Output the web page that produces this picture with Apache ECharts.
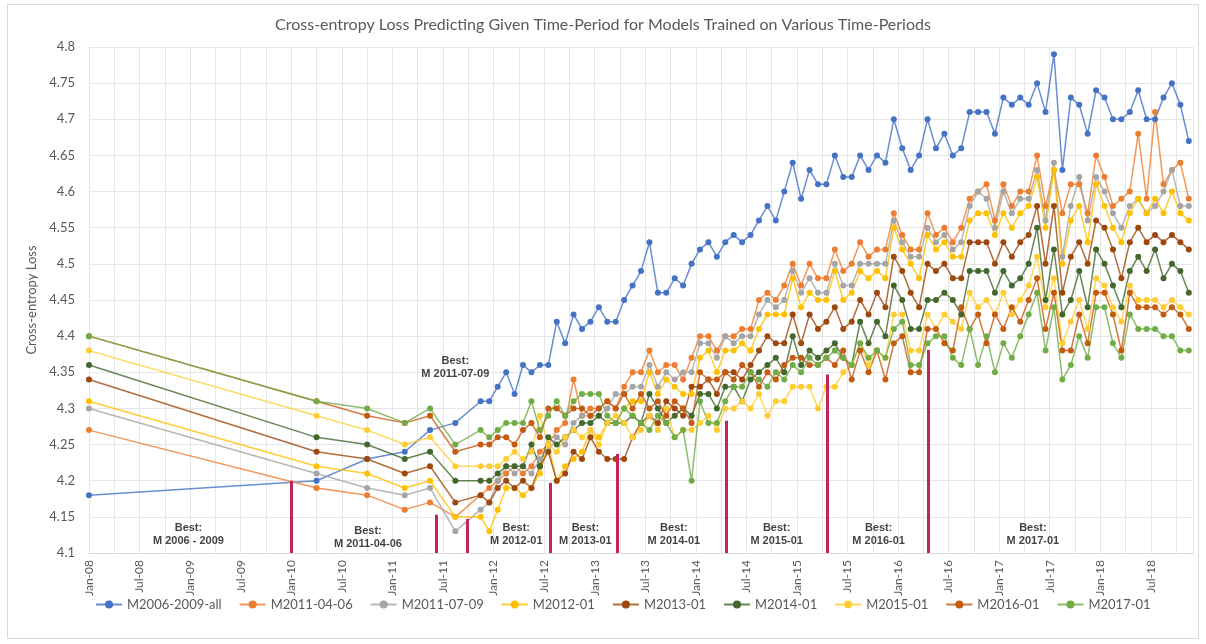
<!DOCTYPE html>
<html>
<head>
<meta charset="utf-8">
<title>Cross-entropy Loss</title>
<script src="https://cdn.jsdelivr.net/npm/echarts@6/dist/echarts.min.js"></script>
<style>
    html, body { margin: 0; padding: 0; background: #fff; }
    #chart { width: 1206px; height: 644px; }
</style>
</head>
<body>
<div id="chart"></div>
<script>
// time periods: first ones are spans, then one point per month (mid month)
var aPeriods = ['2008-01-01', '2010-04-01', '2010-10-01', '2011-02-15', '2011-05-15', '2011-08-15', '2011-11-15',
    '2011-12',
    '2012-01', '2012-02', '2012-03', '2012-04', '2012-05', '2012-06', '2012-07', '2012-08', '2012-09', '2012-10', '2012-11', '2012-12',
    '2013-01', '2013-02', '2013-03', '2013-04', '2013-05', '2013-06', '2013-07', '2013-08', '2013-09', '2013-10', '2013-11', '2013-12',
    '2014-01', '2014-02', '2014-03', '2014-04', '2014-05', '2014-06', '2014-07', '2014-08', '2014-09', '2014-10', '2014-11', '2014-12',
    '2015-01', '2015-02', '2015-03', '2015-04', '2015-05', '2015-06', '2015-07', '2015-08', '2015-09', '2015-10', '2015-11', '2015-12',
    '2016-01', '2016-02', '2016-03', '2016-04', '2016-05', '2016-06', '2016-07', '2016-08', '2016-09', '2016-10', '2016-11', '2016-12',
    '2017-01', '2017-02', '2017-03', '2017-04', '2017-05', '2017-06', '2017-07', '2017-08', '2017-09', '2017-10', '2017-11', '2017-12',
    '2018-01', '2018-02', '2018-03', '2018-04', '2018-05', '2018-06', '2018-07', '2018-08', '2018-09', '2018-10', '2018-11'];

var aNames = ['M2006-2009-all', 'M2011-04-06', 'M2011-07-09', 'M2012-01', 'M2013-01', 'M2014-01', 'M2015-01', 'M2016-01', 'M2017-01'];
var aColors = ['#4472C4', '#ED7D31', '#A5A5A5', '#FFC000', '#9E480E', '#43682B', '#FFCD33', '#C55A11', '#70AD47'];

var aM2006 = [4.18, 4.20, 4.23, 4.24, 4.27, 4.28, 4.31, 4.31,
    4.33, 4.35, 4.32, 4.36, 4.35, 4.36, 4.36, 4.42, 4.39, 4.43, 4.41, 4.42,
    4.44, 4.42, 4.42, 4.45, 4.47, 4.49, 4.53, 4.46, 4.46, 4.48, 4.47, 4.50,
    4.52, 4.53, 4.51, 4.53, 4.54, 4.53, 4.54, 4.56, 4.58, 4.56, 4.60, 4.64,
    4.59, 4.63, 4.61, 4.61, 4.65, 4.62, 4.62, 4.65, 4.63, 4.65, 4.64, 4.70,
    4.66, 4.63, 4.65, 4.70, 4.66, 4.68, 4.65, 4.66, 4.71, 4.71, 4.71, 4.68,
    4.73, 4.72, 4.73, 4.72, 4.75, 4.71, 4.79, 4.63, 4.73, 4.72, 4.68, 4.74,
    4.73, 4.70, 4.70, 4.71, 4.74, 4.70, 4.70, 4.73, 4.75, 4.72, 4.67];
var aM201104 = [4.27, 4.19, 4.18, 4.16, 4.17, 4.15, 4.18, 4.19,
    4.20, 4.21, 4.22, 4.21, 4.22, 4.24, 4.25, 4.27, 4.28, 4.34, 4.29, 4.30,
    4.30, 4.31, 4.30, 4.33, 4.35, 4.35, 4.38, 4.35, 4.36, 4.36, 4.34, 4.37,
    4.40, 4.40, 4.38, 4.40, 4.40, 4.41, 4.41, 4.45, 4.46, 4.45, 4.47, 4.50,
    4.47, 4.50, 4.48, 4.48, 4.52, 4.49, 4.50, 4.53, 4.51, 4.52, 4.52, 4.57,
    4.54, 4.52, 4.52, 4.57, 4.54, 4.55, 4.53, 4.55, 4.59, 4.60, 4.61, 4.56,
    4.61, 4.58, 4.60, 4.60, 4.65, 4.58, 4.63, 4.57, 4.61, 4.61, 4.57, 4.65,
    4.62, 4.58, 4.59, 4.60, 4.68, 4.59, 4.71, 4.61, 4.63, 4.64, 4.59];
var aM201107 = [4.30, 4.21, 4.19, 4.18, 4.19, 4.13, 4.16, 4.17,
    4.20, 4.22, 4.21, 4.22, 4.21, 4.23, 4.24, 4.26, 4.25, 4.28, 4.29, 4.29,
    4.29, 4.30, 4.32, 4.32, 4.33, 4.33, 4.36, 4.33, 4.35, 4.34, 4.35, 4.35,
    4.39, 4.39, 4.37, 4.40, 4.39, 4.40, 4.40, 4.43, 4.45, 4.44, 4.45, 4.49,
    4.46, 4.48, 4.46, 4.46, 4.50, 4.47, 4.47, 4.50, 4.50, 4.50, 4.50, 4.56,
    4.53, 4.51, 4.51, 4.55, 4.53, 4.54, 4.52, 4.53, 4.58, 4.60, 4.59, 4.55,
    4.60, 4.57, 4.59, 4.59, 4.63, 4.56, 4.64, 4.51, 4.58, 4.62, 4.56, 4.62,
    4.60, 4.57, 4.55, 4.58, 4.59, 4.57, 4.58, 4.60, 4.63, 4.58, 4.58];
var aM201201 = [4.31, 4.22, 4.21, 4.19, 4.20, 4.15, 4.15, 4.13,
    4.16, 4.19, 4.19, 4.18, 4.19, 4.21, 4.25, 4.20, 4.22, 4.23, 4.24, 4.27,
    4.26, 4.28, 4.28, 4.30, 4.31, 4.31, 4.35, 4.32, 4.34, 4.33, 4.32, 4.32,
    4.37, 4.38, 4.35, 4.38, 4.38, 4.39, 4.38, 4.41, 4.43, 4.43, 4.43, 4.48,
    4.44, 4.46, 4.45, 4.45, 4.49, 4.45, 4.46, 4.49, 4.48, 4.49, 4.48, 4.55,
    4.52, 4.50, 4.48, 4.54, 4.52, 4.53, 4.51, 4.51, 4.56, 4.57, 4.57, 4.54,
    4.57, 4.55, 4.57, 4.58, 4.62, 4.55, 4.63, 4.50, 4.56, 4.58, 4.53, 4.61,
    4.58, 4.55, 4.53, 4.57, 4.59, 4.57, 4.59, 4.57, 4.60, 4.57, 4.56];
var aM201301 = [4.34, 4.24, 4.23, 4.21, 4.22, 4.17, 4.18, 4.17,
    4.19, 4.20, 4.19, 4.20, 4.19, 4.22, 4.24, 4.20, 4.21, 4.24, 4.23, 4.26,
    4.24, 4.23, 4.23, 4.23, 4.26, 4.28, 4.29, 4.28, 4.31, 4.30, 4.29, 4.33,
    4.33, 4.34, 4.32, 4.35, 4.35, 4.34, 4.36, 4.38, 4.40, 4.39, 4.39, 4.43,
    4.39, 4.43, 4.41, 4.42, 4.44, 4.41, 4.42, 4.45, 4.43, 4.46, 4.44, 4.51,
    4.49, 4.46, 4.44, 4.50, 4.49, 4.50, 4.48, 4.48, 4.53, 4.53, 4.53, 4.50,
    4.53, 4.51, 4.53, 4.54, 4.58, 4.50, 4.58, 4.46, 4.51, 4.53, 4.50, 4.56,
    4.55, 4.52, 4.48, 4.53, 4.55, 4.53, 4.54, 4.53, 4.54, 4.53, 4.52];
var aM201401 = [4.36, 4.26, 4.25, 4.23, 4.24, 4.20, 4.20, 4.20,
    4.21, 4.22, 4.22, 4.22, 4.25, 4.22, 4.26, 4.25, 4.26, 4.27, 4.28, 4.28,
    4.29, 4.28, 4.28, 4.28, 4.29, 4.28, 4.32, 4.30, 4.28, 4.29, 4.30, 4.29,
    4.32, 4.32, 4.30, 4.33, 4.33, 4.31, 4.34, 4.35, 4.36, 4.37, 4.35, 4.40,
    4.36, 4.38, 4.37, 4.38, 4.39, 4.37, 4.36, 4.42, 4.39, 4.42, 4.40, 4.47,
    4.45, 4.41, 4.41, 4.45, 4.45, 4.46, 4.45, 4.43, 4.49, 4.49, 4.49, 4.46,
    4.49, 4.47, 4.48, 4.50, 4.55, 4.45, 4.52, 4.43, 4.45, 4.49, 4.44, 4.52,
    4.50, 4.47, 4.44, 4.49, 4.51, 4.49, 4.52, 4.48, 4.50, 4.49, 4.46];
var aM201501 = [4.38, 4.29, 4.27, 4.25, 4.26, 4.22, 4.22, 4.22,
    4.22, 4.23, 4.24, 4.23, 4.24, 4.29, 4.25, 4.24, 4.26, 4.27, 4.26, 4.27,
    4.25, 4.28, 4.29, 4.28, 4.26, 4.27, 4.29, 4.27, 4.30, 4.26, 4.27, 4.27,
    4.28, 4.29, 4.27, 4.30, 4.30, 4.31, 4.30, 4.32, 4.29, 4.31, 4.31, 4.33,
    4.33, 4.33, 4.30, 4.33, 4.33, 4.35, 4.36, 4.39, 4.36, 4.38, 4.37, 4.43,
    4.43, 4.38, 4.38, 4.43, 4.41, 4.43, 4.42, 4.41, 4.46, 4.44, 4.45, 4.43,
    4.46, 4.43, 4.45, 4.47, 4.51, 4.44, 4.48, 4.39, 4.42, 4.45, 4.41, 4.48,
    4.47, 4.44, 4.42, 4.47, 4.45, 4.45, 4.45, 4.44, 4.45, 4.44, 4.43];
var aM201601 = [4.40, 4.31, 4.29, 4.28, 4.29, 4.24, 4.25, 4.25,
    4.26, 4.26, 4.25, 4.27, 4.28, 4.26, 4.30, 4.30, 4.29, 4.30, 4.30, 4.29,
    4.30, 4.31, 4.30, 4.32, 4.30, 4.32, 4.30, 4.31, 4.29, 4.31, 4.30, 4.28,
    4.35, 4.34, 4.34, 4.35, 4.34, 4.36, 4.35, 4.33, 4.35, 4.34, 4.36, 4.37,
    4.37, 4.36, 4.36, 4.37, 4.36, 4.38, 4.34, 4.38, 4.35, 4.38, 4.34, 4.39,
    4.40, 4.35, 4.35, 4.41, 4.41, 4.39, 4.38, 4.44, 4.41, 4.43, 4.39, 4.43,
    4.41, 4.44, 4.42, 4.45, 4.48, 4.41, 4.46, 4.38, 4.38, 4.43, 4.39, 4.46,
    4.46, 4.43, 4.38, 4.46, 4.44, 4.44, 4.44, 4.43, 4.44, 4.43, 4.41];
var aM201701 = [4.40, 4.31, 4.30, 4.28, 4.30, 4.25, 4.27, 4.26,
    4.27, 4.28, 4.28, 4.28, 4.31, 4.27, 4.29, 4.31, 4.29, 4.31, 4.32, 4.32,
    4.32, 4.29, 4.28, 4.30, 4.29, 4.28, 4.27, 4.29, 4.28, 4.26, 4.27, 4.20,
    4.31, 4.28, 4.28, 4.31, 4.33, 4.33, 4.35, 4.34, 4.33, 4.35, 4.34, 4.36,
    4.35, 4.37, 4.36, 4.37, 4.38, 4.37, 4.36, 4.39, 4.37, 4.38, 4.37, 4.41,
    4.42, 4.36, 4.36, 4.39, 4.40, 4.40, 4.37, 4.36, 4.41, 4.36, 4.40, 4.35,
    4.39, 4.37, 4.40, 4.43, 4.46, 4.38, 4.44, 4.34, 4.36, 4.40, 4.37, 4.44,
    4.44, 4.39, 4.37, 4.43, 4.41, 4.41, 4.41, 4.40, 4.40, 4.38, 4.38];

// boundaries where the best model changes: [date, top of the bar]
var aBestBars = [['2010-01-01', 4.20], ['2011-06-07', 4.153], ['2011-09-27', 4.147], ['2012-07-23', 4.197],
    ['2013-03-20', 4.237], ['2014-04-19', 4.283], ['2015-04-19', 4.347], ['2016-04-19', 4.381]];
// best model notes: [date, value, text]
var aBestNotes = [['2008-12-25', 4.126, 'Best:\nM 2006 - 2009'], ['2010-10-04', 4.122, 'Best:\nM 2011-04-06'],
    ['2011-08-15', 4.357, 'Best:\nM 2011-07-09'], ['2012-03-22', 4.126, 'Best:\nM 2012-01'],
    ['2012-11-28', 4.126, 'Best:\nM 2013-01'], ['2013-10-13', 4.126, 'Best:\nM 2014-01'],
    ['2014-10-19', 4.126, 'Best:\nM 2015-01'], ['2015-10-22', 4.126, 'Best:\nM 2016-01'],
    ['2017-05-01', 4.126, 'Best:\nM 2017-01']];

var aSeriesValues = [aM2006, aM201104, aM201107, aM201201, aM201301, aM201401, aM201501, aM201601, aM201701];
var aMonthNames = ['Jan', 'Feb', 'Mar', 'Apr', 'May', 'Jun', 'Jul', 'Aug', 'Sep', 'Oct', 'Nov', 'Dec'];
var cFont = 'Lato, "Open Sans", sans-serif';
var cText = '#595959';

// months since Jan-2008; a month without a day sits mid month
function toMonth(cDate) {
    var aPart = cDate.split('-');
    var nDay = aPart[2] ? (+aPart[2] - 1) / 30 : 0.5;
    return (+aPart[0] - 2008) * 12 + (+aPart[1] - 1) + nDay;
}

var oChart = echarts.init(document.getElementById('chart'));

var aSeries = aNames.map(function (cName, i) {
    return {
        name: cName,
        type: 'line',
        data: aPeriods.map(function (cP, j) { return [toMonth(cP), aSeriesValues[i][j]]; }),
        symbol: 'circle',
        symbolSize: 6,
        itemStyle: { color: aColors[i] },
        lineStyle: { color: aColors[i], width: 1.5, opacity: 0.8 },
        emphasis: { disabled: true }
    };
});

// bars marking the switch of best model
aSeries.push({
    name: 'bars',
    type: 'line',
    data: [],
    silent: true,
    markLine: {
        symbol: 'none',
        silent: true,
        label: { show: false },
        lineStyle: { color: '#C2255C', width: 3, type: 'solid' },
        data: aBestBars.map(function (a) {
            return [{ coord: [toMonth(a[0]), 4.1] }, { coord: [toMonth(a[0]), a[1]] }];
        })
    }
});

// "Best:" notes
aSeries.push({
    name: 'notes',
    type: 'scatter',
    silent: true,
    symbolSize: 0,
    data: aBestNotes.map(function (a) { return { value: [toMonth(a[0]), a[1]], cText: a[2] }; }),
    label: {
        show: true,
        position: 'inside',
        formatter: function (p) { return p.data.cText; },
        color: '#111',
        fontFamily: 'Liberation Sans, Arial, sans-serif',
        fontWeight: 'bold',
        fontSize: 11,
        lineHeight: 13,
        align: 'center'
    }
});

var oOption = {
    animation: false,
    backgroundColor: '#fff',
    textStyle: { fontFamily: cFont },
    title: {
        text: 'Cross-entropy Loss Predicting Given Time-Period for Models Trained on Various Time-Periods',
        left: 'center',
        top: 12,
        textStyle: { fontFamily: cFont, fontSize: 16, fontWeight: 'normal', color: cText }
    },
    graphic: [{
        type: 'rect',
        shape: { x: 7.5, y: 4.5, width: 1191, height: 634 },
        style: { fill: 'none', stroke: '#d9d9d9', lineWidth: 1 },
        silent: true
    }],
    legend: {
        data: aNames,
        bottom: 28,
        left: 90,
        itemGap: 17,
        itemWidth: 26,
        itemHeight: 10,
        textStyle: { fontFamily: cFont, fontSize: 13, color: cText }
    },
    grid: { left: 89, right: 13, top: 47, bottom: 91, containLabel: false },
    xAxis: {
        type: 'value',
        min: 0,
        max: 131,
        interval: 3,
        axisLine: { show: true, lineStyle: { color: '#d9d9d9' } },
        axisTick: { show: false },
        splitLine: { show: true, lineStyle: { color: '#e6e6e6' } },
        axisLabel: {
            rotate: 90,
            margin: 7,
            fontSize: 12,
            color: cText,
            fontFamily: cFont,
            showMaxLabel: false,
            formatter: function (v) {
                if (v % 6 !== 0) return '';
                var nY = 8 + Math.floor(v / 12);
                return aMonthNames[v % 12] + '-' + (nY < 10 ? '0' + nY : nY);
            }
        }
    },
    yAxis: {
        type: 'value',
        min: 4.1,
        max: 4.8,
        interval: 0.05,
        name: 'Cross-entropy Loss',
        nameLocation: 'middle',
        nameRotate: 90,
        nameGap: 42,
        nameTextStyle: { fontFamily: cFont, fontSize: 13, color: cText },
        axisLine: { show: false },
        axisTick: { show: false },
        splitLine: { show: true, lineStyle: { color: '#e6e6e6' } },
        axisLabel: {
            margin: 14,
            fontSize: 13,
            color: cText,
            fontFamily: cFont,
            formatter: function (v) { return String(+v.toFixed(2)); }
        }
    },
    series: aSeries
};

oChart.setOption(oOption);
</script>
</body>
</html>
